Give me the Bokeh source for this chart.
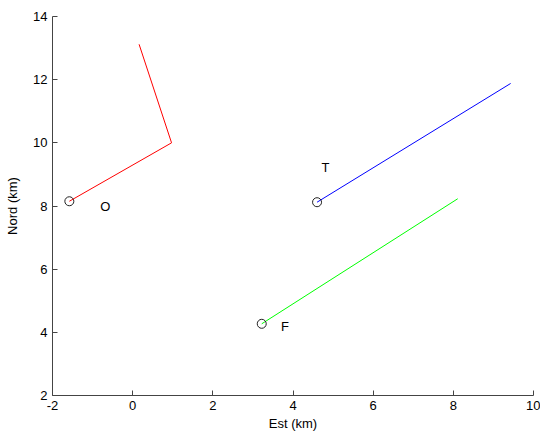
from bokeh.plotting import figure
from bokeh.models import FixedTicker, Range1d, PrintfTickFormatter
from bokeh.core.properties import value
from bokeh.embed import file_html
from bokeh.resources import INLINE

# Trajectories (km)
red_x = [-1.58, 0.97, 0.16]
red_y = [8.15, 10.0, 13.12]
blue_x = [4.60, 9.43]
blue_y = [8.12, 11.88]
green_x = [3.22, 8.11]
green_y = [4.27, 8.23]

# Start markers
start_x = [-1.58, 4.60, 3.22]
start_y = [8.15, 8.12, 4.27]

# Labels
label_text = ["O", "T", "F"]
label_x = [-0.68, 4.81, 3.80]
label_y = [8.0, 9.23, 4.19]

x_ticks = [-2, 0, 2, 4, 6, 8, 10]
y_ticks = [2, 4, 6, 8, 10, 12, 14]

FONT = "Liberation Sans"

p = figure(width=540, height=434, output_backend="svg", toolbar_location=None,
           x_range=Range1d(-2, 10), y_range=Range1d(2, 14),
           min_border_left=52, min_border_right=7, min_border_top=16, min_border_bottom=39)
p.outline_line_color = None
p.xgrid.visible = False
p.ygrid.visible = False
p.background_fill_color = "white"
p.border_fill_color = "white"

p.line(red_x, red_y, line_color="#ff0000", line_width=1)
p.line(blue_x, blue_y, line_color="#0000ff", line_width=1)
p.line(green_x, green_y, line_color="#00ff00", line_width=1)
p.scatter(start_x, start_y, marker="circle", size=9, fill_color=None,
          line_color="#222222", line_width=1)
p.text(label_x, label_y, text=label_text, text_align="center", text_baseline="middle",
       text_font=value(FONT), text_font_size="13px", text_font_style="normal",
       text_color="black")

p.xaxis.ticker = FixedTicker(ticks=x_ticks)
p.yaxis.ticker = FixedTicker(ticks=y_ticks)
p.xaxis.formatter = PrintfTickFormatter(format="%d")
p.yaxis.formatter = PrintfTickFormatter(format="%d")
p.xaxis.axis_label = "Est (km)"
p.yaxis.axis_label = "Nord (km)"
for ax in (p.xaxis, p.yaxis):
    ax.axis_line_color = "#444444"
    ax.major_tick_line_color = "#444444"
    ax.major_tick_in = 5
    ax.major_tick_out = 0
    ax.minor_tick_line_color = None
    ax.major_label_text_font = FONT
    ax.major_label_text_font_size = "13px"
    ax.major_label_text_color = "black"
    ax.axis_label_text_font = FONT
    ax.axis_label_text_font_size = "13px"
    ax.axis_label_text_font_style = "normal"
    ax.axis_label_text_color = "black"
    ax.major_label_standoff = 5
p.xaxis.axis_label_standoff = 3
p.yaxis.axis_label_standoff = 10

open("out.html", "w").write(file_html(p, INLINE))
